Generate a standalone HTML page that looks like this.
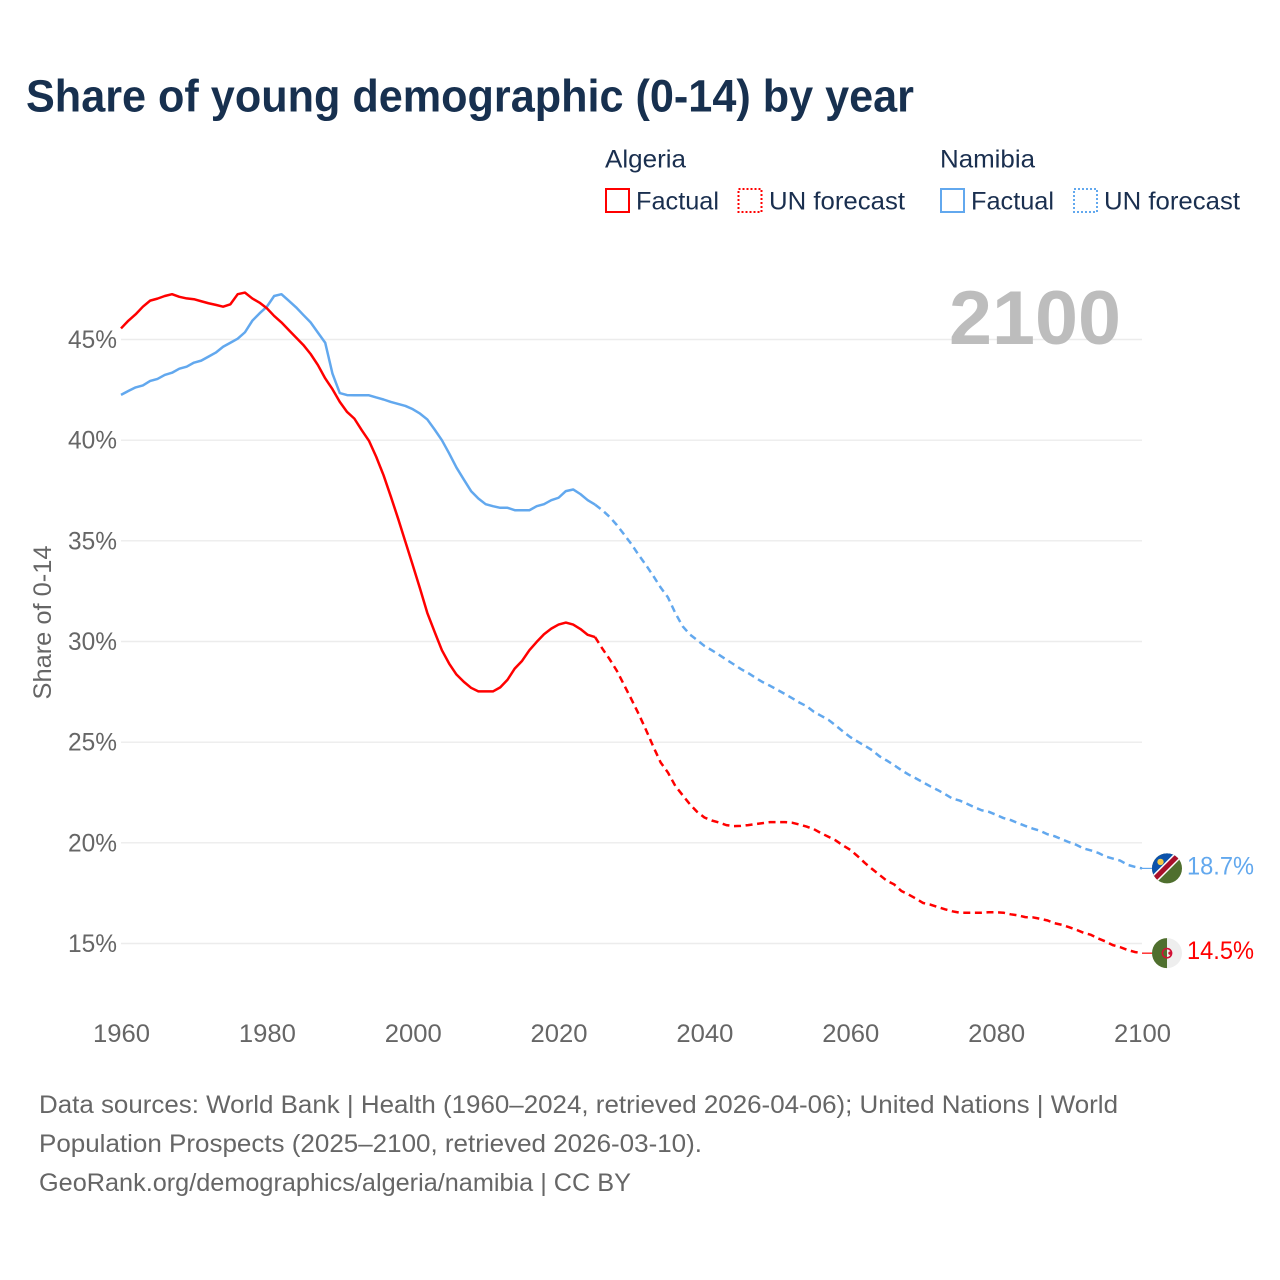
<!DOCTYPE html>
<html lang="en">
<head>
<meta charset="utf-8">
<title>Share of young demographic (0-14) by year</title>
<style>
html,body{margin:0;padding:0;background:#fff;width:1280px;height:1280px;overflow:hidden}
svg{display:block}
text{font-family:"Liberation Sans",sans-serif}
.legend{font-size:25px;fill:#1a2f4f}
.tick{font-size:25px;fill:#666}
.foot{font-size:25px;fill:#666}
</style>
</head>
<body>
<svg id="chart" xmlns="http://www.w3.org/2000/svg" width="1280" height="1280" viewBox="0 0 1280 1280">
  <rect x="0" y="0" width="1280" height="1280" fill="#fff"/>
  <text x="26" y="111.5" font-size="45" font-weight="700" fill="#17304f" textLength="888" lengthAdjust="spacingAndGlyphs">Share of young demographic (0-14) by year</text>

  <g>
    <text class="legend" x="605" y="167.5" textLength="81" lengthAdjust="spacingAndGlyphs">Algeria</text>
    <rect x="606" y="189" width="23" height="23" fill="none" stroke="#ff0000" stroke-width="2"/>
    <text class="legend" x="636" y="209.5" textLength="83" lengthAdjust="spacingAndGlyphs">Factual</text>
    <rect x="738.5" y="189" width="23" height="23" fill="none" stroke="#ff0000" stroke-width="2" stroke-dasharray="2 2"/>
    <text class="legend" x="769" y="209.5" textLength="136" lengthAdjust="spacingAndGlyphs">UN forecast</text>

    <text class="legend" x="940" y="167.5" textLength="95" lengthAdjust="spacingAndGlyphs">Namibia</text>
    <rect x="941" y="189" width="23" height="23" fill="none" stroke="#62a8ee" stroke-width="2"/>
    <text class="legend" x="971" y="209.5" textLength="83" lengthAdjust="spacingAndGlyphs">Factual</text>
    <rect x="1074" y="189" width="23" height="23" fill="none" stroke="#62a8ee" stroke-width="2" stroke-dasharray="2 2"/>
    <text class="legend" x="1104" y="209.5" textLength="136" lengthAdjust="spacingAndGlyphs">UN forecast</text>
  </g>

  <g id="grid"></g>
  <text x="949" y="344" font-size="76" font-weight="700" fill="#bdbdbd" textLength="172" lengthAdjust="spacingAndGlyphs">2100</text>
  <g id="yticks"></g>
  <g id="xticks"></g>
  <text class="tick" transform="translate(51,699.5) rotate(-90)" x="0" y="0" textLength="154" lengthAdjust="spacingAndGlyphs">Share of 0-14</text>
  <g id="series"></g>
  <g id="ends"></g>

  <g>
    <text class="foot" x="39" y="1113" textLength="1079" lengthAdjust="spacingAndGlyphs">Data sources: World Bank | Health (1960–2024, retrieved 2026-04-06); United Nations | World</text>
    <text class="foot" x="39" y="1152" textLength="663" lengthAdjust="spacingAndGlyphs">Population Prospects (2025–2100, retrieved 2026-03-10).</text>
    <text class="foot" x="39" y="1191" textLength="592" lengthAdjust="spacingAndGlyphs">GeoRank.org/demographics/algeria/namibia | CC BY</text>
  </g>
</svg>
<script>
const yTickValues = [15, 20, 25, 30, 35, 40, 45];
const xTickYears = [1960, 1980, 2000, 2020, 2040, 2060, 2080, 2100];
const factualStartYear = 1960;
const forecastStartYear = 2025;
const algeriaFactual = [45.55,45.93,46.25,46.63,46.93,47.03,47.16,47.25,47.12,47.04,47.0,46.9,46.8,46.72,46.63,46.75,47.25,47.33,47.04,46.83,46.55,46.17,45.85,45.47,45.1,44.73,44.28,43.73,43.07,42.53,41.9,41.4,41.07,40.5,39.97,39.17,38.26,37.2,36.1,34.95,33.8,32.63,31.42,30.48,29.57,28.9,28.36,28.0,27.7,27.52,27.52,27.52,27.72,28.1,28.66,29.04,29.57,29.98,30.36,30.64,30.84,30.94,30.84,30.62,30.33,30.22];
const algeriaForecast = [30.22,29.65,29.12,28.54,27.83,27.12,26.39,25.6,24.77,23.99,23.49,22.83,22.37,21.92,21.54,21.26,21.11,21.01,20.88,20.83,20.84,20.88,20.93,20.98,21.03,21.03,21.03,21.0,20.91,20.81,20.68,20.48,20.3,20.12,19.87,19.65,19.34,19.0,18.7,18.41,18.12,17.94,17.61,17.43,17.23,17.01,16.93,16.81,16.7,16.6,16.53,16.53,16.53,16.53,16.55,16.55,16.53,16.45,16.4,16.31,16.3,16.23,16.15,16.01,15.93,15.81,15.68,15.53,15.43,15.25,15.1,14.92,14.82,14.68,14.58,14.52];
const namibiaFactual = [42.25,42.44,42.62,42.72,42.94,43.04,43.24,43.35,43.55,43.65,43.85,43.95,44.15,44.35,44.64,44.84,45.04,45.36,45.93,46.3,46.63,47.16,47.25,46.93,46.6,46.22,45.85,45.34,44.84,43.3,42.34,42.24,42.23,42.23,42.23,42.12,42.02,41.9,41.8,41.7,41.54,41.32,41.03,40.53,40.0,39.34,38.64,38.05,37.47,37.1,36.82,36.72,36.64,36.64,36.52,36.52,36.52,36.72,36.82,37.02,37.14,37.47,37.55,37.32,37.02,36.8];
const namibiaForecast = [36.8,36.52,36.19,35.78,35.31,34.83,34.29,33.79,33.25,32.68,32.19,31.42,30.76,30.35,30.07,29.78,29.57,29.34,29.1,28.87,28.63,28.43,28.2,27.98,27.8,27.6,27.4,27.19,26.97,26.79,26.51,26.31,26.11,25.83,25.53,25.25,25.03,24.82,24.6,24.3,24.09,23.86,23.61,23.39,23.2,23.0,22.8,22.62,22.42,22.2,22.1,21.94,21.77,21.62,21.54,21.39,21.23,21.13,20.98,20.84,20.71,20.6,20.43,20.33,20.18,20.03,19.9,19.72,19.62,19.5,19.32,19.22,19.12,18.91,18.81,18.73];
const algeriaEndLabel = "14.5%";
const namibiaEndLabel = "18.7%";

const NS = "http://www.w3.org/2000/svg";
const RED = "#ff0000";
const BLUE = "#62a8ee";
const GREEN = "#4f6f2e";

function xScale(year) { return 121 + (year - 1960) * (1142 - 121) / 140; }
function yScale(v) { return 339.5 + (45 - v) * (943.5 - 339.5) / 30; }

function make(tag, attrs, parent) {
  const el = document.createElementNS(NS, tag);
  for (const k in attrs) el.setAttribute(k, attrs[k]);
  parent.appendChild(el);
  return el;
}
function pathFrom(startYear, values) {
  return values.map(function (v, i) {
    return (i ? "L" : "M") + xScale(startYear + i).toFixed(2) + " " + yScale(v).toFixed(2);
  }).join(" ");
}

const grid = document.getElementById("grid");
const yticks = document.getElementById("yticks");
const xticks = document.getElementById("xticks");
const series = document.getElementById("series");
const ends = document.getElementById("ends");

yTickValues.forEach(function (v) {
  const line = make("line", { x1: 121, x2: 1142, y1: yScale(v), y2: yScale(v), stroke: "#ececec", "stroke-width": 1.4 }, grid);
  
  
  const label = make("text", { x: 68, y: yScale(v) + 8.5, class: "tick", textLength: 49, lengthAdjust: "spacingAndGlyphs" }, yticks);
  
  
  label.textContent = v + "%";
});

xTickYears.forEach(function (yr) {
  const label = make("text", { x: xScale(yr) - 28, y: 1042, class: "tick", textLength: 57, lengthAdjust: "spacingAndGlyphs" }, xticks);
  
  
  label.textContent = yr;
});

function drawSeries(values, startYear, color, dashed, name) {
  const attrs = { d: pathFrom(startYear, values), fill: "none", stroke: color, "stroke-width": 2.5, "stroke-linejoin": "round" };
  if (dashed) attrs["stroke-dasharray"] = "7 4.6";
  const p = make("path", attrs, series);
  
  
}
drawSeries(namibiaFactual, factualStartYear, BLUE, false, 'namibia-factual-line');
drawSeries(namibiaForecast, forecastStartYear, BLUE, true, 'namibia-forecast-line');
drawSeries(algeriaFactual, factualStartYear, RED, false, 'algeria-factual-line');
drawSeries(algeriaForecast, forecastStartYear, RED, true, 'algeria-forecast-line');

const defs = make("defs", {}, ends);
function endMarker(values, color, label, country) {
  const last = values[values.length - 1];
  const cy = yScale(last);
  const cx = 1167;
  const lead = make("line", { x1: xScale(2100), x2: cx - 14, y1: cy, y2: cy, stroke: color, "stroke-width": 1.2 }, ends);
  
  

  const clip = make("clipPath", { id: "clip-" + country }, defs);
  make("circle", { cx: cx, cy: cy, r: 15 }, clip);
  const wrap = make("g", { "clip-path": "url(#clip-" + country + ")" }, ends);
  const flag = make("g", { transform: "translate(" + cx + " " + cy + ")" }, wrap);
  
  

  if (country === "namibia") {
    make("rect", { x: -16, y: -16, width: 32, height: 32, fill: GREEN }, flag);
    make("polygon", { points: "-16,-16 16,-16 -16,16", fill: "#0b52ab" }, flag);
    make("circle", { cx: -6.5, cy: -6.5, r: 3.2, fill: "#f6c945" }, flag);
    make("line", { x1: -17, y1: 15, x2: 15, y2: -17, stroke: "#fff", "stroke-width": 8 }, flag);
    make("line", { x1: -17, y1: 15, x2: 15, y2: -17, stroke: "#a80f2b", "stroke-width": 5 }, flag);
  } else {
    make("rect", { x: -16, y: -16, width: 16, height: 32, fill: GREEN }, flag);
    make("rect", { x: 0, y: -16, width: 16, height: 32, fill: "#eeeeee" }, flag);
    make("circle", { cx: 0, cy: 0, r: 4.6, fill: "none", stroke: "#d21034", "stroke-width": 1.6 }, flag);
    make("circle", { cx: 1.8, cy: 0, r: 3.9, fill: GREEN, "fill-opacity": 0 }, flag);
    make("circle", { cx: 3, cy: 0, r: 1.7, fill: "#d21034" }, flag);
  }

  const t = make("text", { x: 1187, y: cy + 6, "font-size": 25, fill: color, textLength: 67, lengthAdjust: "spacingAndGlyphs" }, ends);
  
  
  t.textContent = label;
}
endMarker(namibiaForecast, BLUE, namibiaEndLabel, "namibia");
endMarker(algeriaForecast, RED, algeriaEndLabel, "algeria");
</script>
</body>
</html>
